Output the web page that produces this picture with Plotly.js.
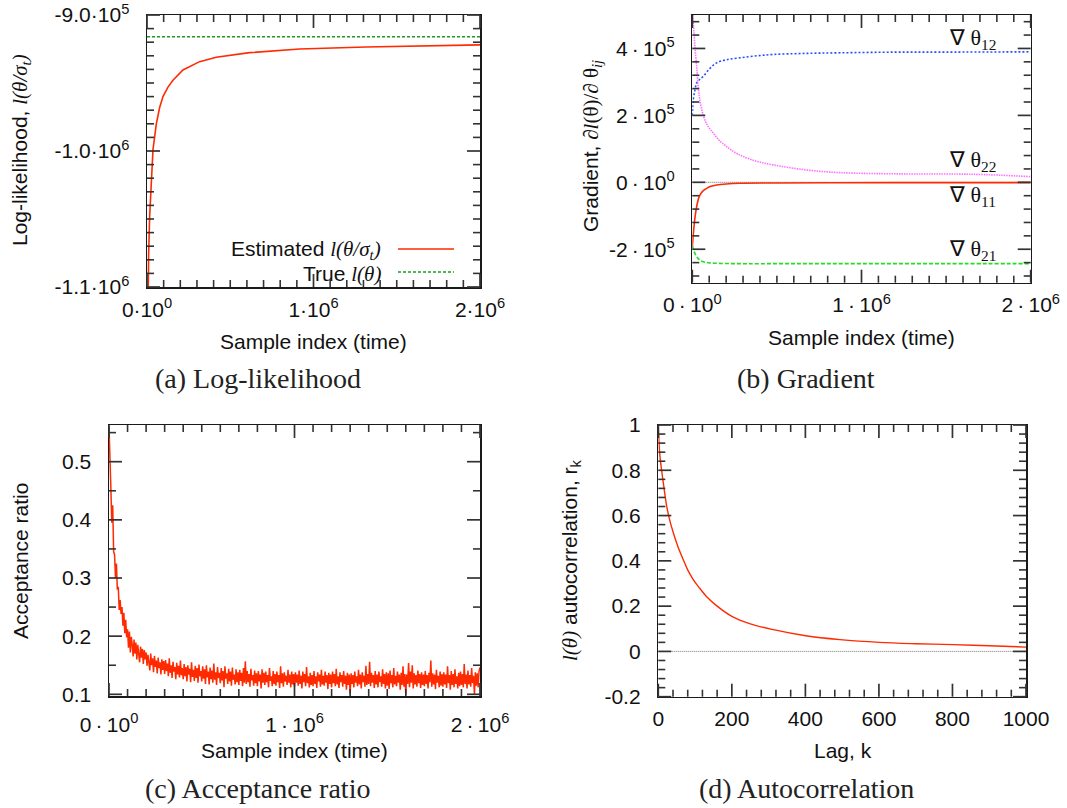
<!DOCTYPE html>
<html><head><meta charset="utf-8">
<script src="https://cdn.plot.ly/plotly-3.0.1.min.js"></script>
<style>html,body{margin:0;padding:0;background:#fff}#chart{width:1067px;height:808px}</style>
</head><body><div id="chart"></div>
<script>
// ---------- DATA ----------
// (a) Log-likelihood
const llX = [2000, 4000, 6000, 10000, 16000, 26000, 36000, 56000, 76000, 96000, 126000, 156000, 216000, 316000, 416000, 616000, 916000, 1316000, 1716000, 2000000];
const llEstimated = [-1160000, -1120000, -1100000, -1075000, -1048000, -1022000, -999000, -980000, -968000, -960000, -953000, -948000, -940400, -934300, -931100, -927700, -925000, -923500, -922800, -922000];
const llTrueX = [0, 2000000];
const llTrue = [-916000, -916000];

// (b) Gradient
const g12X = [0, 6000, 16000, 26000, 45000, 65000, 100000, 144000, 200000, 281000, 380000, 478000, 650000, 872000, 1200000, 1460000, 2000000];
const g12 = [200000, 247000, 277000, 297000, 308000, 317000, 338000, 357000, 366000, 372000, 378000, 382000, 385000, 387000, 389000, 389000, 390000];
const g22X = [0, 5000, 10000, 16000, 25600, 35000, 45000, 65000, 90000, 124000, 160000, 203000, 250000, 301000, 380000, 478000, 675000, 872000, 1270000, 1660000, 2000000];
const g22 = [530000, 480000, 447000, 400000, 347000, 285000, 245000, 200000, 170000, 147000, 125000, 107000, 90000, 77000, 63000, 52000, 37000, 29000, 25000, 24000, 17000];
const g11X = [0, 5000, 10000, 16000, 25600, 35000, 45000, 65000, 85000, 110000, 144000, 200000, 281000, 500000, 800000, 1200000, 2000000];
const g11 = [-195000, -160000, -133000, -105000, -73000, -52000, -38000, -25000, -18000, -12000, -8000, -5000, -3000, -2000, -1500, -1000, -1000];
const g21X = [0, 5000, 10000, 16000, 25000, 35000, 45000, 70000, 104000, 150000, 250000, 600000, 1000000, 1500000, 2000000];
const g21 = [-190000, -198000, -206000, -213000, -222000, -228000, -233000, -238000, -241000, -242000, -243000, -243000, -243000, -243000, -243000];
const gradLabels = ['∇ θ<sub>12</sub>', '∇ θ<sub>22</sub>', '∇ θ<sub>11</sub>', '∇ θ<sub>21</sub>'];
const gradLabelY = [427000, 64000, -41000, -203000];
const zeroX = [0, 2000000];
const zeroY = [0, 0];

// (c) Acceptance ratio, one value every 5000 samples from 0 to 2e6
const accStart = 0, accStep = 5000;
const accRatio = [
0.560,0.480,0.455,0.395,0.425,0.345,0.340,0.300,0.325,0.280,0.285,0.245,0.262,0.238,0.250,0.218,0.240,0.205,0.228,0.198,
0.212,0.180,0.208,0.172,0.199,0.186,0.165,0.194,0.170,0.189,0.160,0.185,0.172,0.155,0.182,0.163,0.178,0.152,0.176,0.160,
0.172,0.149,0.168,0.156,0.141,0.170,0.150,0.162,0.138,0.166,0.147,0.158,0.136,0.163,0.145,0.155,0.134,0.160,0.142,0.157,
0.135,0.159,0.140,0.153,0.131,0.162,0.137,0.150,0.128,0.156,0.139,0.147,0.126,0.154,0.134,0.149,0.129,0.158,0.133,0.145,
0.126,0.152,0.131,0.147,0.122,0.150,0.134,0.144,0.121,0.155,0.130,0.142,0.123,0.149,0.128,0.145,0.120,0.151,0.131,0.140,
0.122,0.148,0.127,0.143,0.118,0.150,0.129,0.139,0.117,0.146,0.126,0.141,0.120,0.153,0.125,0.138,0.116,0.147,0.128,0.137,
0.119,0.145,0.124,0.140,0.112,0.148,0.127,0.136,0.118,0.144,0.122,0.139,0.115,0.146,0.125,0.134,0.117,0.143,0.121,0.138,
0.116,0.142,0.123,0.137,0.114,0.145,0.120,0.157,0.118,0.140,0.121,0.135,0.113,0.144,0.124,0.133,0.115,0.141,0.119,0.136,
0.114,0.140,0.122,0.134,0.110,0.143,0.120,0.137,0.116,0.139,0.121,0.133,0.112,0.145,0.123,0.131,0.114,0.140,0.118,0.135,
0.115,0.139,0.121,0.133,0.111,0.148,0.119,0.136,0.113,0.138,0.122,0.132,0.116,0.142,0.120,0.134,0.112,0.139,0.117,0.135,
0.113,0.138,0.120,0.134,0.115,0.141,0.118,0.132,0.110,0.139,0.121,0.135,0.114,0.147,0.119,0.131,0.112,0.137,0.116,0.133,
0.114,0.140,0.118,0.131,0.111,0.138,0.122,0.134,0.113,0.142,0.117,0.132,0.115,0.139,0.120,0.133,0.109,0.137,0.118,0.134,
0.112,0.139,0.119,0.135,0.114,0.144,0.117,0.131,0.111,0.138,0.121,0.133,0.113,0.140,0.118,0.132,0.108,0.137,0.116,0.134,
0.101,0.136,0.118,0.133,0.112,0.139,0.120,0.131,0.114,0.142,0.117,0.134,0.110,0.138,0.121,0.132,0.113,0.149,0.116,0.135,
0.118,0.156,0.114,0.137,0.120,0.133,0.111,0.140,0.117,0.134,0.112,0.139,0.121,0.131,0.113,0.143,0.118,0.135,0.110,0.138,
0.115,0.136,0.109,0.141,0.119,0.133,0.112,0.145,0.117,0.132,0.114,0.139,0.120,0.134,0.108,0.137,0.116,0.148,0.113,0.135,
0.099,0.134,0.118,0.154,0.112,0.139,0.120,0.150,0.110,0.136,0.117,0.133,0.113,0.141,0.119,0.135,0.111,0.138,0.116,0.134,
0.114,0.140,0.118,0.133,0.110,0.137,0.121,0.158,0.113,0.136,0.117,0.134,0.109,0.142,0.120,0.132,0.112,0.139,0.115,0.135,
0.113,0.138,0.117,0.134,0.111,0.148,0.119,0.133,0.108,0.140,0.116,0.135,0.112,0.143,0.118,0.131,0.110,0.137,0.114,0.139,
0.116,0.135,0.112,0.152,0.118,0.134,0.110,0.141,0.117,0.133,0.113,0.145,0.119,0.132,0.100,0.138,0.115,0.136,0.112,0.140,
0.146];

// (d) Autocorrelation
const lagK = [0, 4, 9, 14, 23, 31, 41, 54, 68, 80, 95, 112, 131, 160, 200, 250, 313, 401, 494, 601, 700, 802, 900, 1000];
const autocorr = [1.0, 0.87, 0.80, 0.74, 0.64, 0.58, 0.523, 0.46, 0.405, 0.36, 0.317, 0.28, 0.243, 0.2, 0.155, 0.122, 0.096, 0.069, 0.052, 0.04, 0.034, 0.03, 0.025, 0.019];
const lagZeroX = [0, 1000];
const lagZeroY = [0, 0];

// Tick labels
const sampleTickVals = [0, 1000000, 2000000];
const sampleTickTextA = ['0·10<sup>0</sup>', '1·10<sup>6</sup>', '2·10<sup>6</sup>'];
const sampleTickTextB = ['0\u2009·\u200910<sup>0</sup>', '1\u2009·\u200910<sup>6</sup>', '2\u2009·\u200910<sup>6</sup>'];
const llTickVals = [-1100000, -1000000, -900000];
const llTickText = ['-1.1·10<sup>6</sup>', '-1.0·10<sup>6</sup>', '-9.0·10<sup>5</sup>'];
const gradTickVals = [-200000, 0, 200000, 400000];
const gradTickText = ['-2\u2009·\u200910<sup>5</sup>', '0\u2009·\u200910<sup>0</sup>', '2\u2009·\u200910<sup>5</sup>', '4\u2009·\u200910<sup>5</sup>'];
const accTickVals = [0.1, 0.2, 0.3, 0.4, 0.5];
const accTickText = ['0.1', '0.2', '0.3', '0.4', '0.5'];
const lagTickVals = [0, 200, 400, 600, 800, 1000];
const lagTickText = ['0', '200', '400', '600', '800', '1000'];
const acTickVals = [-0.2, 0, 0.2, 0.4, 0.6, 0.8, 1];
const acTickText = ['-0.2', '0', '0.2', '0.4', '0.6', '0.8', '1'];

// ---------- STYLE / LAYOUT ----------
const W = 1067, H = 808;
const SANS = 'Liberation Sans, Arial, Helvetica, sans-serif';
const SERIF = 'Liberation Serif, Times New Roman, serif';
const INK = '#1a1a1a';
const TICK = '#333333';
const RED = '#ff2a00';
const px = v => v / W;
const py = v => 1 - v / H;

function frameAxis(extra) {
  return Object.assign({
    showline: true, linecolor: INK, linewidth: 1.5, mirror: true,
    ticks: '', showgrid: false, zeroline: false, fixedrange: true,
    tickmode: 'array',
    tickfont: {family: SANS, size: 21, color: '#111'}
  }, extra);
}

const traces = [
  // (a)
  {x: llX, y: llEstimated, xaxis: 'x', yaxis: 'y', mode: 'lines', line: {color: RED, width: 1.6}, showlegend: false},
  {x: llTrueX, y: llTrue, xaxis: 'x', yaxis: 'y', mode: 'lines', line: {color: '#1f9a1f', width: 1.6, dash: '3px,2px'}, showlegend: false},
  // (b)
  {x: zeroX, y: zeroY, xaxis: 'x2', yaxis: 'y2', mode: 'lines', line: {color: '#444', width: 0.8, dash: '1px,1px'}, showlegend: false},
  {x: g12X, y: g12, xaxis: 'x2', yaxis: 'y2', mode: 'lines', line: {color: '#2a4dff', width: 1.6, dash: '2px,2px', shape: 'spline'}, showlegend: false},
  {x: g22X, y: g22, xaxis: 'x2', yaxis: 'y2', mode: 'lines', line: {color: '#ff70ff', width: 1.6, dash: '1.5px,1px', shape: 'spline'}, showlegend: false},
  {x: g11X, y: g11, xaxis: 'x2', yaxis: 'y2', mode: 'lines', line: {color: RED, width: 1.6, shape: 'spline'}, showlegend: false},
  {x: g21X, y: g21, xaxis: 'x2', yaxis: 'y2', mode: 'lines', line: {color: '#22dd22', width: 1.6, dash: '4px,2px', shape: 'spline'}, showlegend: false},
  // (c)
  {x0: accStart, dx: accStep, y: accRatio, xaxis: 'x3', yaxis: 'y3', mode: 'lines', line: {color: RED, width: 1.5}, showlegend: false},
  // (d)
  {x: lagZeroX, y: lagZeroY, xaxis: 'x4', yaxis: 'y4', mode: 'lines', line: {color: '#555', width: 0.8, dash: '1px,1px'}, showlegend: false},
  {x: lagK, y: autocorr, xaxis: 'x4', yaxis: 'y4', mode: 'lines', line: {color: RED, width: 1.4, shape: 'spline'}, showlegend: false}
];

const domA = {x: [px(147), px(480)], y: [py(287), py(15)]};
const domB = {x: [px(692.3), px(1030.7)], y: [py(282.7), py(15)]};
const domC = {x: [px(109), px(480)], y: [py(696), py(425)]};
const domD = {x: [px(658.3), px(1026)], y: [py(696.7), py(425)]};
const rA = {x: [0, 2000000], y: [-1100000, -900000]};
const rB = {x: [0, 2000000], y: [-300000, 500000]};
const rC = {x: [0, 2000000], y: [0.0971, 0.5631]};
const rD = {x: [0, 1000], y: [-0.2, 1]};

const layout = {
  width: W, height: H, margin: {l: 0, r: 0, t: 0, b: 0},
  paper_bgcolor: '#fff', plot_bgcolor: '#fff', showlegend: false,
  font: {family: SANS, color: '#111'},
  xaxis: frameAxis({domain: domA.x, range: rA.x, anchor: 'y', tickvals: sampleTickVals, ticktext: sampleTickTextA, ticklabelstandoff: 3}),
  yaxis: frameAxis({domain: domA.y, range: rA.y, anchor: 'x', tickvals: llTickVals, ticktext: llTickText, ticklabelstandoff: 12}),
  xaxis2: frameAxis({domain: domB.x, range: rB.x, anchor: 'y2', tickvals: sampleTickVals, ticktext: sampleTickTextB, ticklabelstandoff: 3}),
  yaxis2: frameAxis({domain: domB.y, range: rB.y, anchor: 'x2', tickvals: gradTickVals, ticktext: gradTickText, ticklabelstandoff: 12}),
  xaxis3: frameAxis({domain: domC.x, range: rC.x, anchor: 'y3', tickvals: sampleTickVals, ticktext: sampleTickTextB, ticklabelstandoff: 9}),
  yaxis3: frameAxis({domain: domC.y, range: rC.y, anchor: 'x3', tickvals: accTickVals, ticktext: accTickText, ticklabelstandoff: 12}),
  xaxis4: frameAxis({domain: domD.x, range: rD.x, anchor: 'y4', tickvals: lagTickVals, ticktext: lagTickText, ticklabelstandoff: 3}),
  yaxis4: frameAxis({domain: domD.y, range: rD.y, anchor: 'x4', tickvals: acTickVals, ticktext: acTickText, ticklabelstandoff: 12}),
  annotations: [],
  shapes: []
};

// inside tick marks on all four sides (paper-space decoration derived from each axis's domain and range)
function stepValues(r, step) {
  const out = [];
  const first = Math.ceil(r[0] / step - 1e-9);
  for (let i = first; i * step <= r[1] + step * 1e-9; i++) out.push(+(i * step).toPrecision(12));
  return out;
}
function addTicks(dom, r, xMajor, xStep, yMajor, yStep) {
  const near = (v, arr, s) => arr.some(m => Math.abs(m - v) < s * 1e-6);
  const toPX = v => dom.x[0] + (v - r.x[0]) / (r.x[1] - r.x[0]) * (dom.x[1] - dom.x[0]);
  const toPY = v => dom.y[0] + (v - r.y[0]) / (r.y[1] - r.y[0]) * (dom.y[1] - dom.y[0]);
  const sets = [[13, 1.7, xMajor, yMajor],
    [7, 1.6, stepValues(r.x, xStep).filter(v => !near(v, xMajor, xStep)), stepValues(r.y, yStep).filter(v => !near(v, yMajor, yStep))]];
  sets.forEach(([len, lw, xv, yv]) => {
    const lx = len / W, ly = len / H;
    const ln = {color: TICK, width: lw};
    xv.forEach(v => {
      const x = toPX(v);
      layout.shapes.push({type: 'line', layer: 'above', xref: 'paper', yref: 'paper', x0: x, x1: x, y0: dom.y[0], y1: dom.y[0] + ly, line: ln});
      layout.shapes.push({type: 'line', layer: 'above', xref: 'paper', yref: 'paper', x0: x, x1: x, y0: dom.y[1], y1: dom.y[1] - ly, line: ln});
    });
    yv.forEach(v => {
      const y = toPY(v);
      layout.shapes.push({type: 'line', layer: 'above', xref: 'paper', yref: 'paper', x0: dom.x[0], x1: dom.x[0] + lx, y0: y, y1: y, line: ln});
      layout.shapes.push({type: 'line', layer: 'above', xref: 'paper', yref: 'paper', x0: dom.x[1], x1: dom.x[1] - lx, y0: y, y1: y, line: ln});
    });
  });
}
addTicks(domA, rA, sampleTickVals, 100000, llTickVals, 10000);
addTicks(domB, rB, sampleTickVals, 100000, gradTickVals, 40000);
addTicks(domC, rC, sampleTickVals, 100000, accTickVals, 0.05);
addTicks(domD, rD, lagTickVals, 40, acTickVals, 0.04);

function note(text, x, y, opts) {
  layout.annotations.push(Object.assign({
    text: text, xref: 'paper', yref: 'paper', x: px(x), y: py(y),
    showarrow: false, xanchor: 'center', yanchor: 'middle',
    font: {family: SANS, size: 21, color: '#111'}
  }, opts || {}));
}
const serifI = s => '<span style="font-family:' + SERIF + ';font-style:italic">' + s + '</span>';
const serif = s => '<span style="font-family:' + SERIF + '">' + s + '</span>';

// axis titles
note('Sample index (time)', 313, 342);
note('Sample index (time)', 861, 338);
note('Sample index (time)', 294, 750);
note('Lag, k', 842.5, 750);
note('Log-likelihood, ' + serifI('l(θ/σ<sub>t</sub>)'), 21, 150, {textangle: -90});
note('Gradient, ' + serif('∂' + '<i>l</i>(θ)/∂ θ<sub><i>ij</i></sub>'), 592, 146, {textangle: -90});
note('Acceptance ratio', 20, 561, {textangle: -90});
note(serifI('l(θ)') + ' autocorrelation, r<sub>k</sub>', 571, 560, {textangle: -90});

// captions
const capFont = {family: SERIF, size: 28, color: '#222'};
note('(a) Log-likelihood', 258, 378, {font: capFont});
note('(b) Gradient', 806, 378, {font: capFont});
note('(c) Acceptance ratio', 257, 788, {font: capFont});
note('(d) Autocorrelation', 806, 788, {font: capFont});

// legend of (a)
note('Estimated ' + serifI('l(θ/σ<sub>t</sub>)'), 383, 250, {xanchor: 'right'});
note('True ' + serifI('l(θ)'), 383, 274, {xanchor: 'right'});
layout.shapes.push({type: 'line', xref: 'paper', yref: 'paper', x0: px(398), x1: px(454), y0: py(249), y1: py(249), line: {color: RED, width: 1.6}});
layout.shapes.push({type: 'line', xref: 'paper', yref: 'paper', x0: px(398), x1: px(454), y0: py(272), y1: py(272), line: {color: '#1f9a1f', width: 1.6, dash: '3px,2px'}});

// gradient labels (data coords)
gradLabels.forEach((t, i) => {
  layout.annotations.push({text: t, xref: 'x2', yref: 'y2', x: 1505000, y: gradLabelY[i], showarrow: false,
    xanchor: 'left', yanchor: 'middle', font: {family: SERIF, size: 22, color: '#111'}});
});

Plotly.newPlot('chart', traces, layout, {staticPlot: true, displayModeBar: false});
</script></body></html>
